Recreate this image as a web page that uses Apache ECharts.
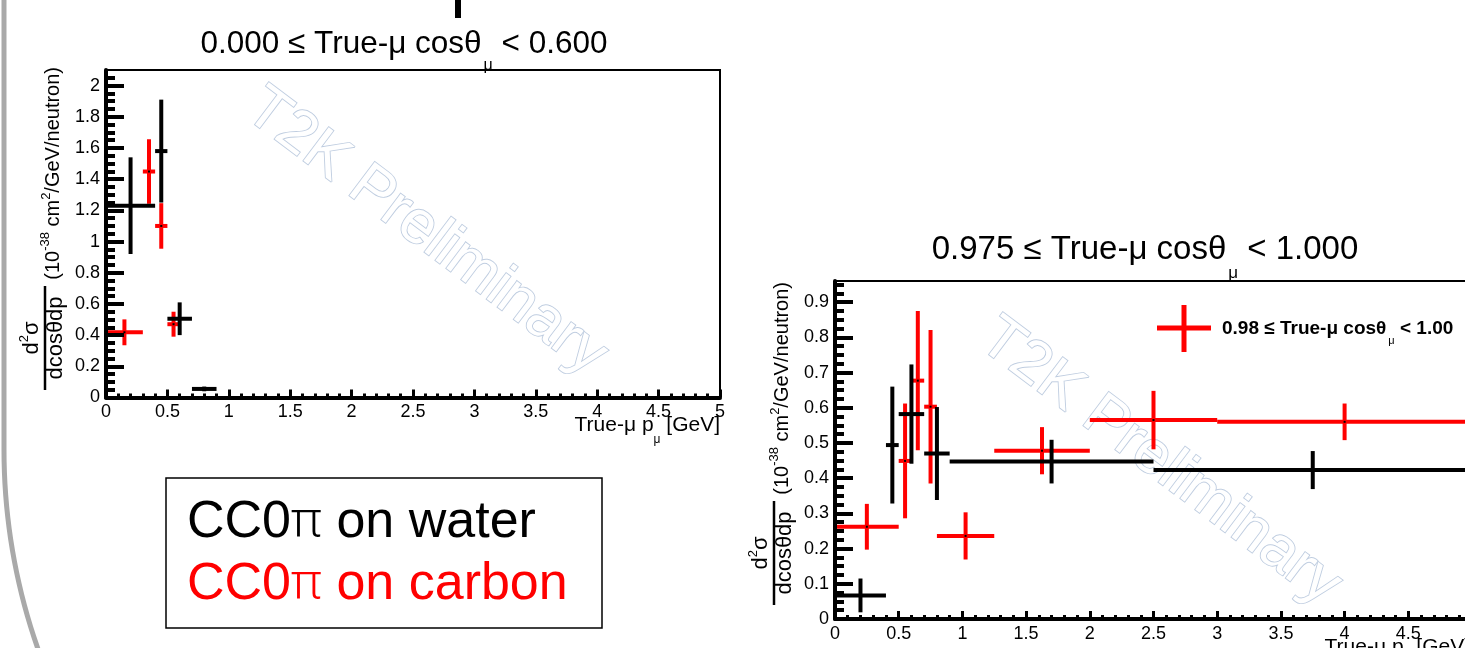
<!DOCTYPE html>
<html><head><meta charset="utf-8">
<script src="https://cdn.jsdelivr.net/npm/echarts@6/dist/echarts.min.js"></script>
<style>html,body{margin:0;padding:0;background:#fff}#c{width:1465px;height:648px}</style>
</head><body><div id="c"></div>
<script>
// ---------- data ----------
// Left panel: 0.000 <= cos < 0.600
const leftWaterX   = [0.2, 0.45, 0.6, 0.8];
const leftWaterLo  = [0.0, 0.4, 0.5, 0.7];
const leftWaterHi  = [0.4, 0.5, 0.7, 0.9];
const leftWaterY   = [1.23, 1.58, 0.505, 0.055];
const leftWaterErr = [0.31, 0.33, 0.105, 0.015];

const leftCarbonX   = [0.15, 0.35, 0.45, 0.55];
const leftCarbonLo  = [0.0, 0.3, 0.4, 0.5];
const leftCarbonHi  = [0.3, 0.4, 0.5, 0.6];
const leftCarbonY   = [0.418, 1.449, 1.10, 0.47];
const leftCarbonErr = [0.083, 0.207, 0.146, 0.08];

// Right panel: 0.975 <= cos < 1.000
const rightWaterX   = [0.2, 0.45, 0.6, 0.8, 1.7, 3.75];
const rightWaterLo  = [0.0, 0.4, 0.5, 0.7, 0.9, 2.5];
const rightWaterHi  = [0.4, 0.5, 0.7, 0.9, 2.5, 5.0];
const rightWaterY   = [0.067, 0.494, 0.582, 0.47, 0.447, 0.423];
const rightWaterErr = [0.048, 0.166, 0.141, 0.132, 0.062, 0.054];

const rightCarbonX   = [0.25, 0.55, 0.65, 0.75, 1.025, 1.625, 2.5, 4.0];
const rightCarbonLo  = [0.0, 0.5, 0.6, 0.7, 0.8, 1.25, 2.0, 3.0];
const rightCarbonHi  = [0.5, 0.6, 0.7, 0.8, 1.25, 2.0, 3.0, 5.0];
const rightCarbonY   = [0.262, 0.449, 0.677, 0.603, 0.236, 0.478, 0.565, 0.56];
const rightCarbonErr = [0.065, 0.163, 0.198, 0.218, 0.067, 0.067, 0.083, 0.052];

// axis ranges & tick labels
const leftXMax = 5, leftYMax = 2.1, rightXMax = 5, rightYMax = 0.96;
const leftYTicks  = [0, 0.2, 0.4, 0.6, 0.8, 1, 1.2, 1.4, 1.6, 1.8, 2];
const rightYTicks = [0, 0.1, 0.2, 0.3, 0.4, 0.5, 0.6, 0.7, 0.8, 0.9];
const xTicks = [0, 0.5, 1, 1.5, 2, 2.5, 3, 3.5, 4, 4.5, 5];

const leftTitle  = ['0.000 ≤ True-μ cosθ', 'μ', ' < 0.600'];
const rightTitle = ['0.975 ≤ True-μ cosθ', 'μ', ' < 1.000'];
const legendText = ['0.98 ≤ True-μ cosθ', 'μ', ' < 1.00'];
const boxLines = [['CC0', 'π', ' on water'], ['CC0', 'π', ' on carbon']];

// ---------- helpers ----------
const FONT = '"Liberation Sans", Arial, Helvetica, sans-serif';
const mctx = document.createElement('canvas').getContext('2d');
function fstr(p) { return (p.w || 'normal') + ' ' + p.s + 'px ' + (p.f || FONT); }
function tw(p) { mctx.font = fstr(p); return mctx.measureText(p.t).width; }
function row(x0, y0, parts, align, z) {
  const total = parts.reduce((a, p) => a + tw(p) + (p.pre || 0), 0);
  let x = align === 'right' ? x0 - total : align === 'center' ? x0 - total / 2 : x0;
  const els = [];
  parts.forEach(p => {
    x += (p.pre || 0);
    els.push({ type: 'text', x: x, y: y0 + (p.dy || 0), z: z || 10,
      style: { text: p.t, font: fstr(p), fill: p.c || '#000',
        textAlign: 'left', align: 'left', textVerticalAlign: 'middle', verticalAlign: 'middle' } });
    x += tw(p);
  });
  return els;
}
function yTitle(axisX, topY) {
  const L = 323;
  const ch = [];
  ch.push({ type: 'line', shape: { x1: 0, y1: -61, x2: 104, y2: -61 }, style: { stroke: '#000', lineWidth: 2.5 } });
  ch.push(...row(52, -74, [{ t: 'd', s: 22 }, { t: '2', s: 13, dy: -8 }, { t: 'σ', s: 22 }], 'center'));
  ch.push(...row(52, -50, [{ t: 'dcosθdp', s: 22 }], 'center'));
  ch.push(...row(L, -53, [{ t: '(10', s: 20 }, { t: '-38', s: 13, dy: -8 }, { t: ' cm', s: 20 },
    { t: '2', s: 13, dy: -7 }, { t: '/GeV/neutron)', s: 20 }], 'right'));
  return { type: 'group', x: axisX, y: topY + L, rotation: Math.PI / 2, children: ch, z: 10 };
}
function mk(xc, lo, hi, y, e) { return xc.map((x, i) => [x, y[i], lo[i], hi[i], e[i]]); }
function errSeries(idx, data, color) {
  return {
    type: 'custom', xAxisIndex: idx, yAxisIndex: idx, z: 2, data: data,
    encode: { x: [0, 2, 3], y: 1 },
    renderItem: function (params, api) {
      const xc = api.value(0), y = api.value(1), xl = api.value(2), xh = api.value(3), e = api.value(4);
      const pL = api.coord([xl, y]), pR = api.coord([xh, y]);
      const pT = api.coord([xc, y + e]), pB = api.coord([xc, y - e]), pC = api.coord([xc, y]);
      return { type: 'group', children: [
        { type: 'line', shape: { x1: pL[0], y1: pL[1], x2: pR[0], y2: pR[1] }, style: { stroke: color, lineWidth: 4 } },
        { type: 'line', shape: { x1: pT[0], y1: pT[1], x2: pB[0], y2: pB[1] }, style: { stroke: color, lineWidth: 4 } },
        { type: 'rect', shape: { x: pC[0] - 1, y: pC[1] - 1, width: 2, height: 2 }, style: { fill: '#000' } }
      ] };
    }
  };
}
function xAx(idx, max) {
  return { type: 'value', gridIndex: idx, min: 0, max: max, interval: 0.5, z: 5,
    axisLine: { show: true, onZero: false, lineStyle: { color: '#000', width: 4 } },
    axisTick: { show: true, inside: true, length: 8, lineStyle: { color: '#000', width: 3 } },
    minorTick: { show: true, splitNumber: 5, length: 4, lineStyle: { color: '#000', width: 3 } },
    splitLine: { show: false }, minorSplitLine: { show: false },
    axisLabel: { margin: 6, color: '#000', fontSize: 18, fontFamily: FONT }
  };
}
function yAx(idx, max, interval, ticks) {
  return { type: 'value', gridIndex: idx, min: 0, max: max, interval: interval, z: 5,
    axisLine: { show: true, onZero: false, lineStyle: { color: '#000', width: 4 } },
    axisTick: { show: true, inside: true, length: 18, customValues: ticks, lineStyle: { color: '#000', width: 4 } },
    minorTick: { show: true, splitNumber: 4, length: 9, lineStyle: { color: '#000', width: 4 } },
    splitLine: { show: false }, minorSplitLine: { show: false },
    axisLabel: { margin: 6, color: '#000', fontSize: 18, fontFamily: FONT, customValues: ticks }
  };
}
function watermark(cx, cy) {
  return { type: 'text', x: cx, y: cy, rotation: -37 * Math.PI / 180, z: 1,
    style: { text: 'T2K Preliminary', font: 'normal 61px ' + FONT, fill: '#ffffff', stroke: '#bfcde0', lineWidth: 1.8,
      textAlign: 'center', align: 'center', textVerticalAlign: 'middle', verticalAlign: 'middle' } };
}

// ---------- option ----------
const gridL = { left: 106, top: 70, width: 614, height: 327.5 };
const gridR = { left: 835, top: 281, width: 637, height: 338 };
[gridL, gridR].forEach(g => { g.show = true; g.borderColor = '#000'; g.borderWidth = 2; g.backgroundColor = 'transparent';
  g.containLabel = false; g.outerBoundsMode = 'none'; });

const graphics = [];
// slide frame (left edge with rounded corner)
const framePts = [[4, -5], [4, 450]];
for (let k = 1; k <= 24; k++) {
  const a = Math.PI - k * (Math.asin(260 / 600) / 24);
  framePts.push([604 + 600 * Math.cos(a), 450 + 600 * Math.sin(a)]);
}
graphics.push({ type: 'polyline', z: 0, shape: { points: framePts }, style: { fill: null, stroke: '#a9a9a9', lineWidth: 5 } });
graphics.push({ type: 'rect', z: 0, shape: { x: 455, y: 0, width: 6, height: 18 }, style: { fill: '#000' } });
graphics.push(watermark(426, 232));
graphics.push(watermark(1160, 462));
graphics.push(...row(404, 44, [{ t: leftTitle[0], s: 31.5 }, { t: leftTitle[1], s: 16, dy: 22, pre: 2 }, { t: leftTitle[2], s: 31.5 }], 'center'));
graphics.push(...row(1145, 250, [{ t: rightTitle[0], s: 33 }, { t: rightTitle[1], s: 17, dy: 23, pre: 2 }, { t: rightTitle[2], s: 33 }], 'center'));
graphics.push(...row(720, 425, [{ t: 'True-μ p', s: 21 }, { t: 'μ', s: 12, dy: 15 }, { t: ' [GeV]', s: 21 }], 'right'));
graphics.push(...row(1470, 647, [{ t: 'True-μ p', s: 21 }, { t: 'μ', s: 12, dy: 15 }, { t: ' [GeV]', s: 21 }], 'right'));
graphics.push(yTitle(106, 67));
graphics.push(yTitle(835, 282));
// legend in right panel
graphics.push({ type: 'line', z: 10, shape: { x1: 1157, y1: 328, x2: 1211, y2: 328 }, style: { stroke: '#ff0000', lineWidth: 5 } });
graphics.push({ type: 'line', z: 10, shape: { x1: 1184, y1: 305, x2: 1184, y2: 352 }, style: { stroke: '#ff0000', lineWidth: 5 } });
graphics.push(...row(1222, 329, [{ t: legendText[0], s: 19, w: 'bold' }, { t: legendText[1], s: 11, dy: 12, pre: 2 }, { t: legendText[2], s: 19, w: 'bold' }], 'left'));
// text box
graphics.push({ type: 'rect', z: 10, shape: { x: 166, y: 478, width: 436, height: 150 }, style: { fill: '#fff', stroke: '#000', lineWidth: 1.5 } });
const PIF = '"Noto Sans", "DejaVu Sans", sans-serif';
graphics.push(...row(187, 523, [{ t: boxLines[0][0], s: 52 }, { t: boxLines[0][1], s: 50, f: PIF, w: '300', dy: 0 }, { t: boxLines[0][2], s: 52 }], 'left', 11));
graphics.push(...row(187, 585, [{ t: boxLines[1][0], s: 52, c: '#ff0000' }, { t: boxLines[1][1], s: 50, f: PIF, w: '300', dy: 0, c: '#ff0000' }, { t: boxLines[1][2], s: 52, c: '#ff0000' }], 'left', 11));

const option = {
  animation: false,
  backgroundColor: '#ffffff',
  grid: [gridL, gridR],
  xAxis: [xAx(0, leftXMax), xAx(1, rightXMax)],
  yAxis: [yAx(0, leftYMax, 0.2, leftYTicks), yAx(1, rightYMax, 0.1, rightYTicks)],
  series: [
    errSeries(0, mk(leftCarbonX, leftCarbonLo, leftCarbonHi, leftCarbonY, leftCarbonErr), '#ff0000'),
    errSeries(0, mk(leftWaterX, leftWaterLo, leftWaterHi, leftWaterY, leftWaterErr), '#000000'),
    errSeries(1, mk(rightCarbonX, rightCarbonLo, rightCarbonHi, rightCarbonY, rightCarbonErr), '#ff0000'),
    errSeries(1, mk(rightWaterX, rightWaterLo, rightWaterHi, rightWaterY, rightWaterErr), '#000000')
  ],
  graphic: { elements: graphics }
};
const chart = echarts.init(document.getElementById('c'), null, { renderer: 'canvas' });
chart.setOption(option);
</script></body></html>
